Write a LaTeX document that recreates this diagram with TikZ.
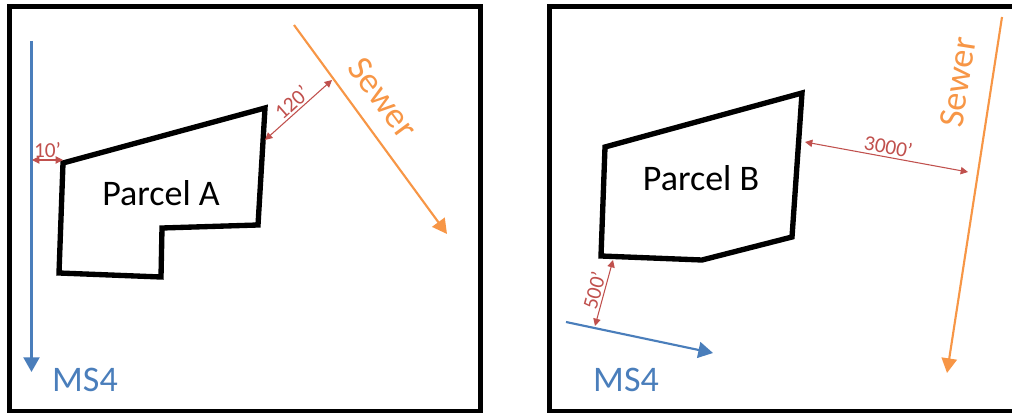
\documentclass[tikz,border=0pt]{standalone}
\usepackage{fontspec}
\setmainfont{Carlito}
\usetikzlibrary{arrows.meta}
\definecolor{msblue}{RGB}{74,126,187}
\definecolor{sewerorange}{RGB}{247,150,70}
\definecolor{dimred}{RGB}{192,80,77}
\begin{document}
\begin{tikzpicture}[x=0.75pt,y=-0.75pt,
  frame/.style={line width=3.75pt, line join=miter},
  parcel/.style={line width=4pt, line join=miter},
  ms4line/.style={msblue, line width=1.6pt, -{Triangle[length=11pt,width=12pt]}},
  sewerline/.style={sewerorange, line width=1.6pt, -{Triangle[length=11pt,width=11.5pt]}},
  dimline/.style={dimred, line width=0.8pt, {Triangle[length=5.5pt,width=5.5pt]}-{Triangle[length=5.5pt,width=5.5pt]}},
  dimlabel/.style={dimred, font=\fontsize{16}{16}\selectfont, inner sep=1.5pt},
  biglabel/.style={font=\fontsize{27}{27}\selectfont, inner sep=0pt},
]
\useasboundingbox (0,0) rectangle (1012,413);

% ---------- left panel: Parcel A ----------
\draw[frame] (9.5,7) rectangle (480,411.5);

\coordinate (a1) at (63,163);
\coordinate (a2) at (265,108);
\coordinate (a3) at (258,225);
\coordinate (a4) at (162,228);
\coordinate (a5) at (161,277);
\coordinate (a6) at (59,273);
\draw[parcel] (a1) -- (a2) -- (a3) -- (a4) -- (a5) -- (a6) -- cycle;
\node[biglabel] (parcelA) at (161,193) {Parcel A};

% storm sewer (MS4) running down the west side
\coordinate (msAstart) at (31.5,41);
\coordinate (msAend) at (31.5,372);
\draw[ms4line] (msAstart) -- (msAend);
\node[biglabel, text=msblue] (msA) at (85,380) {MS4};

% sanitary sewer crossing the north-east corner
\coordinate (swAstart) at (294,25);
\coordinate (swAend) at (447,234);
\draw[sewerline] (swAstart) -- (swAend);
\node[biglabel, text=sewerorange, rotate=-53.5] (swA) at (383,98) {Sewer};

% setbacks
\coordinate (dA1s) at (32,160);
\coordinate (dA1e) at (63,160);
\draw[dimline] (dA1s) -- node[dimlabel, above] (lblA1) {10’} (dA1e);
\coordinate (dA2s) at (265,140);
\coordinate (dA2e) at (332,80);
\draw[dimline] (dA2s) -- node[dimlabel, above, sloped] (lblA2) {120’} (dA2e);

% ---------- right panel: Parcel B ----------
\draw[frame] (549.5,6.5) rectangle (1025,411.5);

\coordinate (b1) at (605,147);
\coordinate (b2) at (802,93);
\coordinate (b3) at (792,237);
\coordinate (b4) at (702,260);
\coordinate (b5) at (601,256);
\draw[parcel] (b1) -- (b2) -- (b3) -- (b4) -- (b5) -- cycle;
\node[biglabel] (parcelB) at (701,178) {Parcel B};

% storm sewer (MS4) south of the parcel
\coordinate (msBstart) at (566,322);
\coordinate (msBend) at (713,353);
\draw[ms4line] (msBstart) -- (msBend);
\node[biglabel, text=msblue] (msB) at (626,380) {MS4};

% sanitary sewer far to the east
\coordinate (swBstart) at (1002,17);
\coordinate (swBend) at (947,373);
\draw[sewerline] (swBstart) -- (swBend);
\node[biglabel, text=sewerorange, rotate=81] (swB) at (958,82) {Sewer};

% setbacks
\coordinate (dB1s) at (805,142);
\coordinate (dB1e) at (968,172);
\draw[dimline] (dB1s) -- node[dimlabel, above, sloped] (lblB1) {3000’} (dB1e);
\coordinate (dB2s) at (595,326);
\coordinate (dB2e) at (613,260);
\draw[dimline] (dB2s) -- node[dimlabel, above, sloped] (lblB2) {500’} (dB2e);
\end{tikzpicture}
\end{document}
